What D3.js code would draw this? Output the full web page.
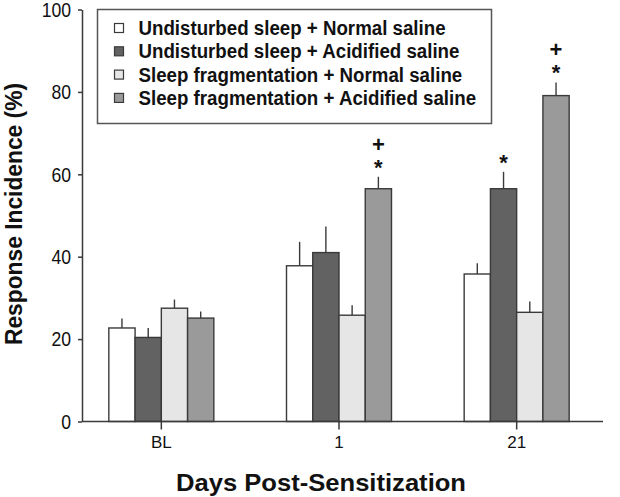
<!DOCTYPE html>
<html>
<head>
<meta charset="utf-8">
<script src="https://cdn.jsdelivr.net/npm/d3@7"></script>
<style>
  html, body { margin: 0; padding: 0; background: #fff; }
  svg { display: block; }
  text { font-family: "Liberation Sans", Arial, Helvetica, sans-serif; fill: #111; }
</style>
</head>
<body>
<svg id="chart" width="620" height="497"></svg>
<script>
// ---- data ----
const categories = ["BL", "1", "21"];
const seriesNames = [
  "Undisturbed sleep + Normal saline",
  "Undisturbed sleep + Acidified saline",
  "Sleep fragmentation + Normal saline",
  "Sleep fragmentation + Acidified saline"
];
const seriesColors = ["#ffffff", "#626262", "#e6e6e6", "#9a9a9a"];
// means per series, in category order
const undisturbedNormal   = [22.7, 37.8, 35.8];
const undisturbedAcidified = [20.4, 41.0, 56.5];
const fragmentedNormal    = [27.5, 25.8, 26.5];
const fragmentedAcidified = [25.1, 56.5, 79.1];
// upper error (mean + SEM) per series
const undisturbedNormalErr   = [25.0, 43.6, 38.4];
const undisturbedAcidifiedErr = [22.7, 47.3, 60.6];
const fragmentedNormalErr    = [29.6, 28.2, 29.1];
const fragmentedAcidifiedErr = [26.7, 59.4, 82.3];
const yTicks = [0, 20, 40, 60, 80, 100];
// significance marks: [category, series index, symbols from top down]
const annotations = [
  ["1", 3, ["+", "*"]],
  ["21", 1, ["*"]],
  ["21", 3, ["+", "*"]]
];

const means = [undisturbedNormal, undisturbedAcidified, fragmentedNormal, fragmentedAcidified];
const errs = [undisturbedNormalErr, undisturbedAcidifiedErr, fragmentedNormalErr, fragmentedAcidifiedErr];

const svg = d3.select("#chart");
const axisColor = "#3a3a3a";

const y = d3.scaleLinear().domain([0, 100]).range([421.5, 9.5]);
const x = d3.scaleBand().domain(categories).range([72.5, 605.5]).paddingInner(0).paddingOuter(0);
const xs = d3.scaleBand().domain(d3.range(seriesNames.length)).range([-52.5, 52.5]);

function condense(sel, f) {
  sel.each(function () {
    const w = this.getComputedTextLength();
    d3.select(this).attr("textLength", w * f).attr("lengthAdjust", "spacingAndGlyphs");
  });
}

// ---- bars ----
const rows = [];
categories.forEach((c, ci) => {
  seriesNames.forEach((s, si) => {
    rows.push({ cat: c, si, v: means[si][ci], e: errs[si][ci] });
  });
});
const cxOf = d => x(d.cat) + x.bandwidth() / 2 + xs(d.si) + xs.bandwidth() / 2;

const g = svg.append("g");
g.selectAll("line.err").data(rows).join("line")
  .attr("class", "err")
  .attr("x1", cxOf).attr("x2", cxOf)
  .attr("y1", d => y(d.v))
  .attr("y2", d => y(d.e))
  .attr("stroke", axisColor).attr("stroke-width", 1.4);

g.selectAll("rect.bar").data(rows).join("rect")
  .attr("class", "bar")
  .attr("x", d => x(d.cat) + x.bandwidth() / 2 + xs(d.si))
  .attr("width", xs.bandwidth())
  .attr("y", d => y(d.v))
  .attr("height", d => y(0) - y(d.v))
  .attr("fill", d => seriesColors[d.si])
  .attr("stroke", axisColor).attr("stroke-width", 1.4);

// ---- significance marks (one text per bar, stacked lines) ----
annotations.forEach(([c, si, syms]) => {
  const ci = categories.indexOf(c);
  const cx = cxOf({ cat: c, si });
  const top = y(errs[si][ci]);
  const n = syms.length;
  const t = svg.append("text")
    .attr("text-anchor", "middle")
    .attr("font-weight", "bold")
    .attr("font-size", 22);
  syms.forEach((s, k) => {
    const centerY = top - 14 - (n - 1 - k) * 18.5;
    t.append("tspan")
      .attr("x", cx)
      .attr("y", centerY + (s === "*" ? 12 : 7.5))
      .text(s);
  });
});

// ---- axes ----
const yAxis = svg.append("g").attr("transform", "translate(82,0)")
  .call(d3.axisLeft(y).tickValues(yTicks).tickSize(4).tickPadding(7).tickSizeOuter(0));
yAxis.select(".domain").attr("stroke", axisColor).attr("stroke-width", 1.5);
yAxis.selectAll(".tick line").attr("stroke", axisColor).attr("stroke-width", 1.5);
yAxis.selectAll(".tick text").attr("font-size", 20).attr("fill", "#111").attr("dy", "0.34em")
  .call(condense, 0.88);

const xAxis = svg.append("g").attr("transform", `translate(0,${y(0)})`)
  .call(d3.axisBottom(x).tickSize(8).tickPadding(6).tickSizeOuter(0));
xAxis.select(".domain").attr("d", `M82,0H603`).attr("stroke", axisColor).attr("stroke-width", 1.5);
xAxis.selectAll(".tick line").attr("stroke", axisColor).attr("stroke-width", 1.5);
xAxis.selectAll(".tick text").attr("font-size", 17).attr("fill", "#111");

// ---- axis titles ----
svg.append("text")
  .attr("x", 321).attr("y", 491)
  .attr("text-anchor", "middle")
  .attr("font-weight", "bold").attr("font-size", 24)
  .text("Days Post-Sensitization")
  .attr("textLength", 290).attr("lengthAdjust", "spacingAndGlyphs");

svg.append("text")
  .attr("transform", "translate(22,214) rotate(-90)")
  .attr("text-anchor", "middle")
  .attr("font-weight", "bold").attr("font-size", 23)
  .text("Response Incidence (%)")
  .attr("textLength", 262).attr("lengthAdjust", "spacingAndGlyphs");

// ---- legend ----
const legend = svg.append("g");
legend.append("rect")
  .attr("x", 97.5).attr("y", 9.5).attr("width", 394).attr("height", 114)
  .attr("fill", "#fff").attr("stroke", "#555").attr("stroke-width", 1.5);
const li = legend.selectAll("g.item").data(seriesNames).join("g")
  .attr("class", "item")
  .attr("transform", (d, i) => `translate(0,${28 + i * 23.3})`);
li.append("rect")
  .attr("x", 114.5).attr("y", -4.5).attr("width", 9).attr("height", 9)
  .attr("fill", (d, i) => seriesColors[i]).attr("stroke", axisColor).attr("stroke-width", 1.2);
li.append("text")
  .attr("x", 138.5).attr("y", 7)
  .attr("font-weight", "bold").attr("font-size", 20)
  .text(d => d)
  .call(condense, 0.935);
</script>
</body>
</html>
